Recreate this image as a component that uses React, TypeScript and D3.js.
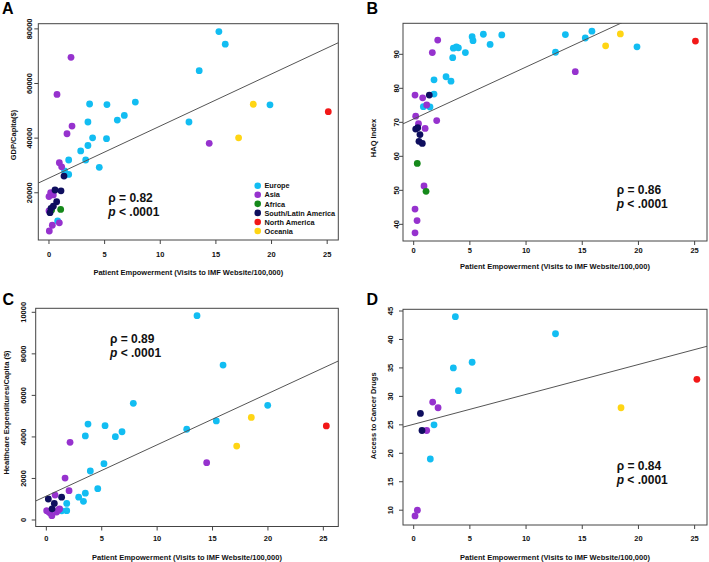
import React from "react";
import * as d3 from "d3";

// ---------- categories ----------
const REGIONS = ["Europe", "Asia", "Africa", "South/Latin America", "North America", "Oceania"];
const REGION_COLORS = ["#12BDF2", "#9632CE", "#15891A", "#0E0E5E", "#F21818", "#FFD514"];

// region codes: 0 Europe, 1 Asia, 2 Africa, 3 South/Latin America, 4 North America, 5 Oceania

// ---------- Panel A: GDP / capita ----------
const gdpX = [15.27, 15.84, 13.5, 19.86, 12.58, 7.76, 5.21, 3.65, 6.77, 6.14, 3.5, 3.92, 5.17, 3.5, 2.85, 3.3, 4.52, 1.77, 1.77, 1.4, 0.78,
  1.98, 0.72, 2.07, 1.62, 14.4, 0.93, 1.14, 0.15, 0.0, 0.39, 0.0, 0.3, 0.03, 0.93,
  0.24, 1.05,
  1.35, 0.54, 1.08, 0.69, 0.39, 0.18, 0.09,
  25.1,
  18.36, 17.04];
const gdpY = [79000, 74400, 64700, 52200, 45900, 53200, 52300, 52500, 48300, 46600, 45900, 40100, 39800, 37300, 35300, 32000, 29300, 32000, 26700, 28000, 9700,
  69600, 56000, 44400, 41600, 38100, 31000, 29500, 20000, 18600, 19200, 13400, 8100, 6000, 9000,
  13700, 13900,
  26100, 21000, 20700, 16700, 15100, 14300, 12700,
  49700,
  52400, 40100];
const gdpRegion = [0, 0, 0, 0, 0, 0, 0, 0, 0, 0, 0, 0, 0, 0, 0, 0, 0, 0, 0, 0, 0,
  1, 1, 1, 1, 1, 1, 1, 1, 1, 1, 1, 1, 1, 1,
  2, 2,
  3, 3, 3, 3, 3, 3, 3,
  4,
  5, 5];

// ---------- Panel B: HAQ index ----------
const haqX = [6.2, 5.2, 5.28, 7.84, 6.8, 13.5, 15.27, 15.86, 19.87, 12.62, 3.53, 3.98, 3.8, 4.6, 3.47, 2.88, 3.32, 1.81, 1.81, 0.86, 1.45,
  2.14, 1.66, 14.38, 0.12, 0.8, 1.16, 0.18, 2.05, 0.43, 1.02, 0.92, 0.12, 0.3, 0.12,
  0.32, 1.1,
  1.39, 0.18, 0.36, 0.56, 0.47, 0.77,
  25.07,
  17.08, 18.39];
const haqY = [95.9, 95.2, 94.0, 95.7, 92.9, 95.8, 94.8, 96.8, 92.2, 90.6, 91.8, 91.9, 92.2, 90.5, 89.0, 83.4, 82.1, 82.5, 78.3, 74.6, 74.5,
  94.2, 90.5, 84.9, 78.0, 77.2, 75.1, 71.8, 70.5, 69.6, 68.2, 51.3, 44.5, 41.1, 37.5,
  57.9, 49.7,
  78.0, 68.0, 68.4, 66.4, 64.4, 63.8,
  93.9,
  92.5, 96.0];
const haqRegion = [0, 0, 0, 0, 0, 0, 0, 0, 0, 0, 0, 0, 0, 0, 0, 0, 0, 0, 0, 0, 0,
  1, 1, 1, 1, 1, 1, 1, 1, 1, 1, 1, 1, 1, 1,
  2, 2,
  3, 3, 3, 3, 3, 3,
  4,
  5, 5];

// ---------- Panel C: Healthcare expenditures / capita ----------
const hceX = [13.6, 15.95, 7.85, 19.98, 15.34, 12.67, 3.76, 5.3, 6.83, 6.23, 3.52, 5.2, 3.97, 4.64, 3.52, 2.92, 3.35, 1.84, 1.84, 1.39,
  2.14, 14.47, 1.69, 2.05, 0.79, 0.03, 0.2, 0.33, 0.5, 0.93, 1.08, 1.2,
  0.18, 1.38, 0.72, 0.52,
  25.27,
  18.5, 17.18];
const hceY = [9840, 7460, 5620, 5520, 4770, 4370, 4620, 4540, 4250, 4010, 4050, 2710, 2360, 1510, 1290, 1100, 900, 800, 450, 440,
  3740, 2760, 2020, 1410, 1200, 450, 400, 340, 210, 380, 480, 530,
  1010, 1100, 800, 540,
  4530,
  4940, 3560];
const hceRegion = [0, 0, 0, 0, 0, 0, 0, 0, 0, 0, 0, 0, 0, 0, 0, 0, 0, 0, 0, 0,
  1, 1, 1, 1, 1, 1, 1, 1, 1, 1, 1, 1,
  3, 3, 3, 3,
  4,
  5, 5];

// ---------- Panel D: Access to cancer drugs ----------
const drugX = [3.71, 12.62, 5.2, 3.53, 3.98, 1.81, 1.48,
  1.69, 2.17, 1.16, 0.33, 0.12,
  0.6, 0.74,
  25.2,
  18.45];
const drugY = [44, 41, 36, 35, 31, 25, 19,
  29, 28, 24, 10, 9,
  27, 24,
  33,
  28];
const drugRegion = [0, 0, 0, 0, 0, 0, 0,
  1, 1, 1, 1, 1,
  3, 3,
  4,
  5];

// ---------- fits & statistics ----------
const fitIntercepts = [25380, 71.0, 1152, 25.1];
const fitSlopes = [1906, 1.527, 246.8, 0.525];
const rhoLabels = ["ρ = 0.82", "ρ = 0.86", "ρ = 0.89", "ρ = 0.84"];
const panelLetters = ["A", "B", "C", "D"];
const yTitles = ["GDP/Capita($)", "HAQ Index", "Healthcare Expenditures/Capita ($)", "Access to Cancer Drugs"];
const xTitle = "Patient Empowerment (Visits to IMF Website/100,000)";
const xTickValues = [0, 5, 10, 15, 20, 25];
const yTickValuesA = [20000, 40000, 60000, 80000];
const yTickValuesB = [40, 50, 60, 70, 80, 90];
const yTickValuesC = [0, 2000, 4000, 6000, 8000, 10000];
const yTickValuesD = [10, 15, 20, 25, 30, 35, 40, 45];

const FONT = "'Liberation Sans', Arial, Helvetica, sans-serif";

type PanelCfg = {
  idx: number;
  box: { l: number; r: number; t: number; b: number };
  xDomain: [number, number];
  yDomain: [number, number];
  yTicks: number[];
  xs: number[];
  ys: number[];
  regs: number[];
  letterPos: [number, number];
  yLabelX: number;
  xLabelY: number;
  xTitleY: number;
  yTitleX: number;
  yTitleCY: number;
  rhoPos: [number, number];
  legend?: boolean;
};

function Panel({ cfg }: { cfg: PanelCfg }) {
  const { box, idx } = cfg;
  const x = d3.scaleLinear().domain(cfg.xDomain).range([box.l, box.r]);
  const y = d3.scaleLinear().domain(cfg.yDomain).range([box.b, box.t]);
  const clipId = `clip-${idx}`;
  const fit = (v: number) => fitIntercepts[idx] + fitSlopes[idx] * v;
  const linePath = d3.line<number>().x((d) => x(d)).y((d) => y(fit(d)))(cfg.xDomain as number[]);
  const tick = 4;
  const cx = (box.l + box.r) / 2;
  return (
    <g>
      <defs>
        <clipPath id={clipId}>
          <rect x={box.l} y={box.t} width={box.r - box.l} height={box.b - box.t} />
        </clipPath>
      </defs>
      <text x={cfg.letterPos[0]} y={cfg.letterPos[1]} fontFamily={FONT} fontWeight="bold" fontSize={16} fill="#000">
        {panelLetters[idx]}
      </text>
      {/* points */}
      <g>
        {cfg.xs.map((xv, i) => (
          <circle key={i} cx={x(xv)} cy={y(cfg.ys[i])} r={3.4} fill={REGION_COLORS[cfg.regs[i]]} />
        ))}
      </g>
      {/* regression line */}
      <path d={linePath || ""} fill="none" stroke="#555" strokeWidth={1} clipPath={`url(#${clipId})`} />
      {/* box */}
      <rect x={box.l} y={box.t} width={box.r - box.l} height={box.b - box.t} fill="none" stroke="#444" strokeWidth={1} />
      {/* x axis */}
      {xTickValues.map((t) => (
        <g key={`xt${t}`}>
          <line x1={x(t)} x2={x(t)} y1={box.b} y2={box.b + tick} stroke="#444" strokeWidth={1} />
          <text x={x(t)} y={cfg.xLabelY} textAnchor="middle" fontFamily={FONT} fontWeight="bold" fontSize={7.5} fill="#111">
            {t}
          </text>
        </g>
      ))}
      {/* y axis */}
      {cfg.yTicks.map((t) => (
        <g key={`yt${t}`}>
          <line x1={box.l - tick} x2={box.l} y1={y(t)} y2={y(t)} stroke="#444" strokeWidth={1} />
          <text
            transform={`translate(${cfg.yLabelX},${y(t)}) rotate(-90)`}
            textAnchor="middle"
            fontFamily={FONT}
            fontWeight="bold"
            fontSize={7.5}
            fill="#111"
          >
            {t}
          </text>
        </g>
      ))}
      <text x={cx} y={cfg.xTitleY} textAnchor="middle" fontFamily={FONT} fontWeight="bold" fontSize={7.5} fill="#111">
        {xTitle}
      </text>
      <text
        transform={`translate(${cfg.yTitleX},${cfg.yTitleCY}) rotate(-90)`}
        textAnchor="middle"
        fontFamily={FONT}
        fontWeight="bold"
        fontSize={7.5}
        fill="#111"
      >
        {yTitles[idx]}
      </text>
      {/* statistics */}
      <text x={cfg.rhoPos[0]} y={cfg.rhoPos[1]} fontFamily={FONT} fontWeight="bold" fontSize={12} fill="#111">
        {rhoLabels[idx]}
      </text>
      <text x={cfg.rhoPos[0]} y={cfg.rhoPos[1] + 14} fontFamily={FONT} fontWeight="bold" fontSize={12} fill="#111">
        <tspan fontStyle="italic">p</tspan>
        <tspan>{" < .0001"}</tspan>
      </text>
      {cfg.legend && (
        <g>
          {REGIONS.map((r, i) => (
            <g key={r}>
              <circle cx={257.7} cy={185.7 + i * 9.07} r={3.3} fill={REGION_COLORS[i]} />
              <text x={264.5} y={185.7 + i * 9.07 + 2.7} fontFamily={FONT} fontWeight="bold" fontSize={7.3} fill="#111">
                {r}
              </text>
            </g>
          ))}
        </g>
      )}
    </g>
  );
}

const panels: PanelCfg[] = [
  {
    idx: 0,
    box: { l: 38.3, r: 338.3, t: 23.7, b: 240 },
    xDomain: [-0.96, 26.0],
    yDomain: [2700, 81900],
    yTicks: yTickValuesA,
    xs: gdpX, ys: gdpY, regs: gdpRegion,
    letterPos: [2, 14],
    yLabelX: 32.3,
    xLabelY: 256.5,
    xTitleY: 275,
    yTitleX: 15.5,
    yTitleCY: 135,
    rhoPos: [108.3, 202],
    legend: true,
  },
  {
    idx: 1,
    box: { l: 403, r: 707, t: 23.3, b: 241 },
    xDomain: [-0.95, 26.1],
    yDomain: [35.1, 99.12],
    yTicks: yTickValuesB,
    xs: haqX, ys: haqY, regs: haqRegion,
    letterPos: [366.5, 13.5],
    yLabelX: 398.5,
    xLabelY: 252.5,
    xTitleY: 268.5,
    yTitleX: 375.5,
    yTitleCY: 138,
    rhoPos: [616.7, 194],
  },
  {
    idx: 2,
    box: { l: 35.7, r: 338.3, t: 308.3, b: 526.5 },
    xDomain: [-0.96, 26.35],
    yDomain: [-313, 10193],
    yTicks: yTickValuesC,
    xs: hceX, ys: hceY, regs: hceRegion,
    letterPos: [2.5, 305],
    yLabelX: 26,
    xLabelY: 541,
    xTitleY: 559.5,
    yTitleX: 8.5,
    yTitleCY: 412.5,
    rhoPos: [110, 343.3],
  },
  {
    idx: 3,
    box: { l: 403, r: 707, t: 309.3, b: 525 },
    xDomain: [-0.95, 26.1],
    yDomain: [7.4, 45.3],
    yTicks: yTickValuesD,
    xs: drugX, ys: drugY, regs: drugRegion,
    letterPos: [366.5, 305],
    yLabelX: 392.5,
    xLabelY: 541,
    xTitleY: 559.5,
    yTitleX: 375.5,
    yTitleCY: 415.8,
    rhoPos: [616.7, 469.5],
  },
];

export default function App() {
  return (
    <svg
      width={709}
      height={562}
      viewBox="0 0 709 562"
      style={{ position: "absolute", left: 0, top: 0, background: "#fff" }}
    >
      <rect x={0} y={0} width={709} height={562} fill="#fff" />
      {panels.map((p) => (
        <Panel key={p.idx} cfg={p} />
      ))}
    </svg>
  );
}
